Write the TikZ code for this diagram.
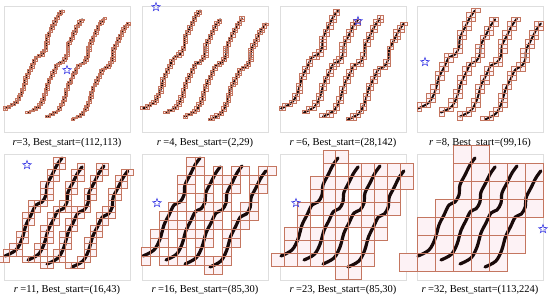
\documentclass[tikz,border=0pt]{standalone}
\usepackage{fontspec}
\setmainfont{Liberation Serif}
\usetikzlibrary{positioning, shapes.geometric}

\definecolor{inkblack}{RGB}{25,10,10}
\definecolor{boxred}{RGB}{196,118,96}
\definecolor{boxpink}{RGB}{253,242,245}
\definecolor{starblue}{RGB}{60,60,230}
\definecolor{framegray}{RGB}{222,222,222}

\tikzset{
  panel/.style={draw=framegray, line width=0.6pt, minimum width=126pt, minimum height=126pt, inner sep=0pt},
  cellfill/.style={fill=boxpink},
  celledge/.style={draw=boxred, line width=0.45pt},
  ink/.style={draw=inkblack, line cap=round, line join=round},
  beststar/.style={star, star points=5, star point ratio=2.4, draw=starblue, line width=0.6pt, minimum size=9pt, inner sep=0pt},
  caption/.style={font=\fontsize{10.5}{12}\selectfont, inner sep=0pt}
}

% one handwritten stroke as a polyline, and where the four strokes start
\newcommand\strokepts{0/0/11/-6, 11/-6/17/-17, 17/-17/21/-31, 21/-31/26/-41, 26/-41/31/-51, 31/-51/37/-54, 37/-54/41/-61, 41/-61/42/-71, 42/-71/47/-81, 47/-81/52/-91, 52/-91/57/-98}
\newcommand\strokestarts{1/102/1, 24/106/0.95, 43/110/1, 68/113/0.98}

\begin{document}
\begin{tikzpicture}[x=1pt, y=-1pt]
  \useasboundingbox[fill=white] (0,0) rectangle (550,302);

  \foreach \pid/\ox/\oy/\rs/\brow/\bcol/\stx/\sty/\gap in {
      1/4/6.5/3/112/113/63/63.5/0pt,
      2/142/6.5/4/2/29/14/0.5/2.5pt,
      3/280/6.5/6/28/142/78/14.5/2.5pt,
      4/417/6.5/8/99/16/8/55.5/2.5pt,
      5/4/154/11/16/43/23/11/2.5pt,
      6/142/154/16/85/30/15/49/2.5pt,
      7/280/154/23/85/30/16/49/2.5pt,
      8/417/154/32/113/224/126/75/2.5pt} {
    \pgfmathsetmacro\cellsz{\rs*0.5625}
    \pgfmathsetmacro\gridx{\ox+\bcol*0.5625}
    \pgfmathsetmacro\gridy{\oy+\brow*0.5625}
    \pgfmathsetmacro\inkw{\rs>10 ? 3.2 : 2}

    \node[panel] (pan\pid) at (\ox+63,\oy+63) {};

    % boxes of size r met by the strokes
    \gdef\celllist{}
    \foreach \sx/\sy/\sc in \strokestarts {
      \foreach \off in {-1,0,1} {
        \foreach \ax/\ay/\bx/\by in \strokepts {
          \foreach \k in {0,...,10} {
            \pgfmathsetmacro\qx{\ox+\sx+\sc*(\ax+(\bx-\ax)*\k/10)+\off*\inkw/2}
            \pgfmathsetmacro\qy{\oy+\sy+\sc*(\ay+(\by-\ay)*\k/10)}
            \pgfmathtruncatemacro\ci{floor((\qx-\gridx)/\cellsz)}
            \pgfmathtruncatemacro\cj{floor((\qy-\gridy)/\cellsz)}
            \ifcsname c-\pid-\ci-\cj\endcsname\else
              \expandafter\xdef\csname c-\pid-\ci-\cj\endcsname{1}%
              \ifx\celllist\empty\xdef\celllist{\ci/\cj}\else\xdef\celllist{\celllist,\ci/\cj}\fi
            \fi
          }
        }
      }
    }
    \foreach \ci/\cj in \celllist {
      \path[cellfill] (\gridx+\ci*\cellsz,\gridy+\cj*\cellsz) rectangle ++(\cellsz,\cellsz);
    }
    \foreach \sx/\sy/\sc in \strokestarts {
      \draw[ink, line width=\inkw pt, shift={(\ox+\sx,\oy+\sy)}, scale=\sc]
        plot[smooth, tension=0.55] coordinates {(0,0) (11,-6) (17,-17) (21,-31) (26,-41) (31,-51) (37,-54) (41,-61) (42,-71) (47,-81) (52,-91) (57,-98)};
    }
    \foreach \ci/\cj in \celllist {
      \path[celledge] (\gridx+\ci*\cellsz,\gridy+\cj*\cellsz) rectangle ++(\cellsz,\cellsz);
    }

    \node[beststar] (star\pid) at (\ox+\stx,\oy+\sty) {};
    \node[caption, below=12.5pt of pan\pid, anchor=base] (cap\pid)
      {\textit{r}\hspace{\gap}=\rs, Best\_start=(\brow,\bcol)};
  }
\end{tikzpicture}
\end{document}
